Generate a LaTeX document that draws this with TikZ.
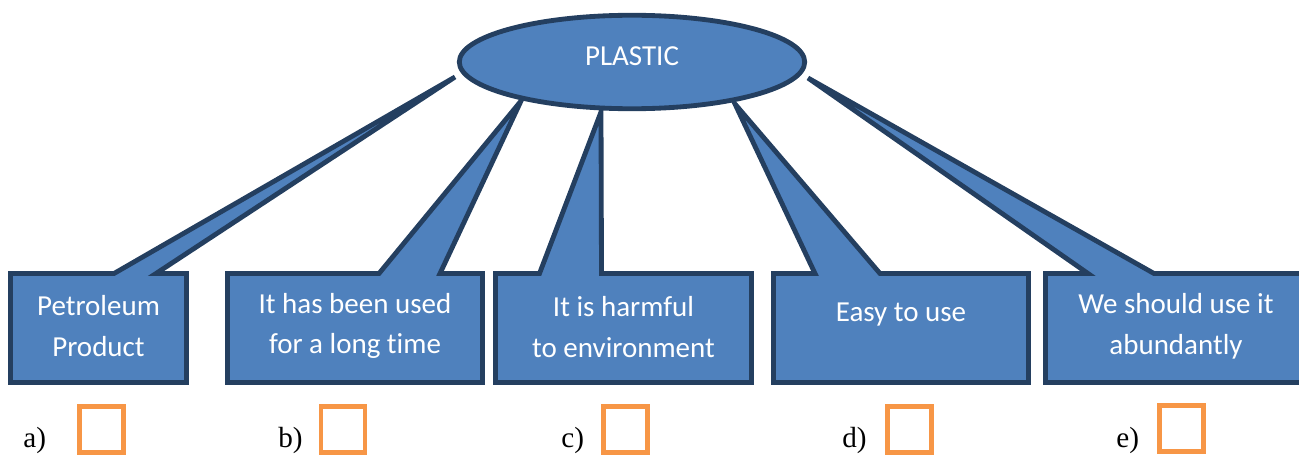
\documentclass[tikz,border=0pt]{standalone}
\usepackage{fontspec}
\setmainfont{Liberation Serif}
\newfontfamily\calibri[Ligatures=CommonOff]{Carlito}
\usetikzlibrary{shapes.geometric}
\definecolor{shapefill}{HTML}{4F81BD}
\definecolor{shapeline}{HTML}{243F60}
\definecolor{tickbox}{HTML}{F79646}

\begin{document}
\begin{tikzpicture}[x=0.02cm, y=0.02cm,
  callout/.style={fill=shapefill, draw=shapeline, line width=2.75pt, line join=miter},
  boxtext/.style={text=white, align=center, font=\calibri\fontsize{16.5}{23.2}\selectfont},
  chk/.style={draw=tickbox, line width=2.83pt, minimum width=0.88cm, minimum height=0.92cm},
  lbl/.style={anchor=base west, font=\fontsize{16.6}{20}\selectfont}]
\tikzstyle{every node}+=[inner sep=0pt]
\useasboundingbox (0,0) rectangle (1299,-456);
% tips of the callouts
\coordinate (tipa) at (455,-77);
\coordinate (tipb) at (521,-101);
\coordinate (tipc) at (601,-112);
\coordinate (tipd) at (735,-104);
\coordinate (tipe) at (808,-78);
% callout boxes
\filldraw [callout] (10.5,-273.5) -- (114,-273.5) -- (tipa) -- (156,-273.5) -- (186.5,-273.5) -- (186.5,-382.5) -- (10.5,-382.5) -- cycle;
\filldraw [callout] (227.5,-273.5) -- (379,-273.5) -- (tipb) -- (440,-273.5) -- (482.5,-273.5) -- (482.5,-382.5) -- (227.5,-382.5) -- cycle;
\filldraw [callout] (495.5,-273.5) -- (539.5,-273.5) -- (tipc) -- (601.5,-273.5) -- (751.5,-273.5) -- (751.5,-382.5) -- (495.5,-382.5) -- cycle;
\filldraw [callout] (773.5,-273.5) -- (815,-273.5) -- (tipd) -- (880,-273.5) -- (1028.5,-273.5) -- (1028.5,-382.5) -- (773.5,-382.5) -- cycle;
\filldraw [callout] (1045.5,-273.5) -- (1088,-273.5) -- (tipe) -- (1154,-273.5) -- (1310,-273.5) -- (1310,-382.5) -- (1045.5,-382.5) -- cycle;
% the ellipse
\node [ellipse, fill=shapefill, draw=shapeline, line width=2.75pt, minimum width=6.91cm, minimum height=1.87cm, text=white, font=\calibri\fontsize{16.5}{20}\selectfont, text depth=7pt] (plastic) at (632,-62) {PLASTIC};
% box texts
\node [boxtext] (petro) at (98.5,-326) {Petroleum\\Product};
\node [boxtext] (longtime) at (355,-326) {It has been used\\for a long time};
\node [boxtext] (harmful) at (623.5,-327) {It is harmful\\to environment};
\node [boxtext] (easy) at (901,-315) {Easy to use};
\node [boxtext] (abundant) at (1176,-326) {We should use it\\abundantly};
% answer labels and tick boxes
\node [lbl] (la) at (23,-447) {a)};
\node [lbl] (lb) at (278,-447) {b)};
\node [lbl] (lc) at (561,-447) {c)};
\node [lbl] (ld) at (842,-447) {d)};
\node [lbl] (le) at (1116,-447) {e)};
\node [chk] (qa) at (101.5,-429.5) {};
\node [chk] (qb) at (343,-429.5) {};
\node [chk] (qc) at (625.5,-429.5) {};
\node [chk] (qd) at (909.5,-429.5) {};
\node [chk] (qe) at (1181.5,-428.5) {};
\end{tikzpicture}
\end{document}
